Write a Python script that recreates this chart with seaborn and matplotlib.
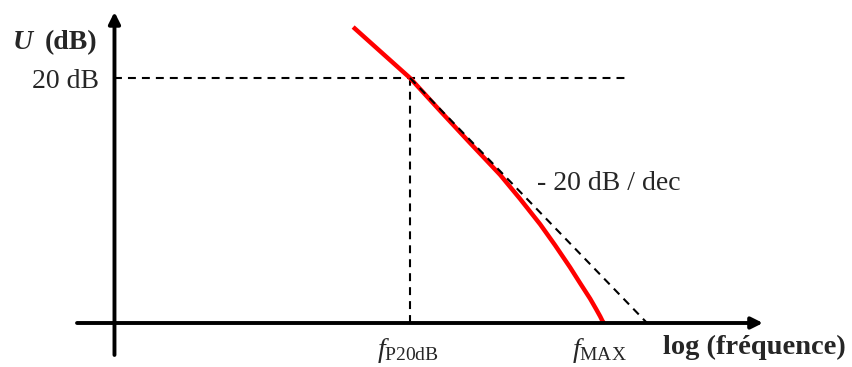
import matplotlib
matplotlib.use("Agg")
import matplotlib.pyplot as plt
import seaborn as sns

sns.set_style("white")
plt.rcParams["font.family"] = ["Liberation Serif", "DejaVu Serif"]
plt.rcParams["mathtext.fontset"] = "custom"
plt.rcParams["mathtext.rm"] = "Liberation Serif"
plt.rcParams["mathtext.it"] = "Liberation Serif:italic"
plt.rcParams["mathtext.bf"] = "Liberation Serif:bold"

# Gain curve (x = log10 of frequency, y = gain in dB)
freq_log = [0.760, 0.873, 1.0, 1.127, 1.253, 1.380, 1.464, 1.549, 1.612, 1.675,
            1.717, 1.760, 1.785, 1.802, 1.812, 1.818]
gain_db = [24.16, 22.20, 20.0, 17.32, 14.70, 12.10, 10.14, 8.06, 6.35, 4.55,
           3.27, 1.98, 1.14, 0.55, 0.16, 0.0]

# asymptote at -20 dB / dec and the 20 dB reference
gain_ref = 20
f_p20 = 1.0
f_asym_zero = 2.0
f_max = 1.80
ref_line_end = 1.907

# axes extents
axis_x0 = -0.247
x_axis_range = [-0.405, 2.489]
y_axis_range = [-2.61, 25.39]

fig = plt.figure(figsize=(8.53, 3.67), dpi=100)
ax = fig.add_axes([0, 0, 1, 1])
ax.set_xlim(-0.730, 2.869)
ax.set_ylim(-3.592, 26.367)
ax.axis("off")

dash = (0, (3.8, 2.9))
sns.lineplot(x=[axis_x0, ref_line_end], y=[gain_ref, gain_ref], ax=ax, color="black",
             lw=1.5, linestyle=dash, zorder=2)
sns.lineplot(x=[f_p20, f_p20], y=[0, gain_ref], ax=ax, color="black", lw=1.5,
             linestyle=dash, sort=False, estimator=None, zorder=2)

# the red curve
sns.lineplot(x=freq_log, y=gain_db, ax=ax, color="red", lw=3.2, sort=False,
             estimator=None, zorder=3, solid_joinstyle="round", solid_capstyle="butt")

# -20 dB/dec asymptote, drawn over the curve
sns.lineplot(x=[f_p20, f_asym_zero], y=[gain_ref, 0], ax=ax, color="black", lw=1.5,
             linestyle=dash, sort=False, estimator=None, zorder=3.5)

# axes as arrows
arrow = dict(arrowstyle="-|>", color="black", lw=2.8, shrinkA=0, shrinkB=0, mutation_scale=17)
ax.annotate("", xy=(x_axis_range[1], 0), xytext=(x_axis_range[0], 0), arrowprops=arrow, zorder=4)
ax.annotate("", xy=(axis_x0, y_axis_range[1]), xytext=(axis_x0, y_axis_range[0]),
            arrowprops=arrow, zorder=4)

# texts
ax.text(-0.675, 22.37, "U", fontsize=20, fontweight="bold", fontstyle="italic", va="baseline")
ax.text(-0.540, 22.37, "(dB)", fontsize=20, fontweight="bold", va="baseline")
ax.text(-0.312, 19.18, "20 dB", fontsize=20, ha="right", va="baseline")
ax.text(1.536, 10.86, "- 20 dB / dec", fontsize=20, va="baseline")
ax.text(f_p20 - 0.01, -2.75, r"$f_{\mathrm{P20dB}}$", fontsize=20, ha="center", va="baseline")
ax.text(f_max, -2.75, r"$f_{\mathrm{MAX}}$", fontsize=20, ha="center", va="baseline")
ax.text(2.067, -2.53, "log (fréquence)", fontsize=20.5, fontweight="bold", va="baseline")

fig.savefig("out.png", dpi=100)
